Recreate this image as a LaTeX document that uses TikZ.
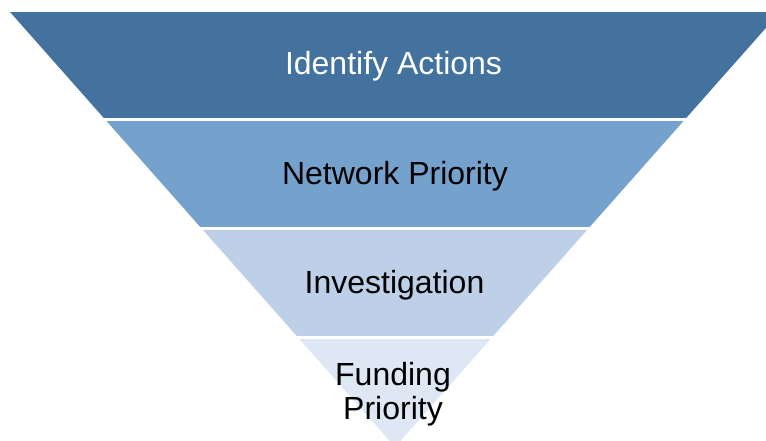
\documentclass[tikz,border=0pt]{standalone}
\usepackage{fontspec}
\setmainfont{Liberation Sans}
\definecolor{bandA}{RGB}{66,114,157}
\definecolor{bandB}{RGB}{117,161,205}
\definecolor{bandC}{RGB}{189,208,232}
\definecolor{bandD}{RGB}{221,232,244}
\begin{document}
\begin{tikzpicture}[x=1pt,y=-1pt,
  lbl/.style={inner sep=0pt, font=\fontsize{32}{34}\selectfont, align=center}]
\useasboundingbox (0,0) rectangle (766,441);
\begin{scope}
  \clip (0,0) rectangle (766,441);
  \clip (10,12) -- (780,12) -- (395,447) -- cycle;
  \fill[bandA] (0,12) rectangle (800,118);
  \fill[bandB] (0,121) rectangle (800,227);
  \fill[bandC] (0,230) rectangle (800,336);
  \fill[bandD] (0,339) rectangle (800,460);
\end{scope}
\node[lbl, text=white, anchor=base] (t1) at (393.5,75) {Identify Actions};
\node[lbl, text=black, anchor=base] (t2) at (395,185) {Network Priority};
\node[lbl, text=black, anchor=base] (t3) at (394.5,293) {Investigation};
\node[lbl, text=black, anchor=center] (t4) at (393,394) {Funding\\Priority};
\end{tikzpicture}
\end{document}
